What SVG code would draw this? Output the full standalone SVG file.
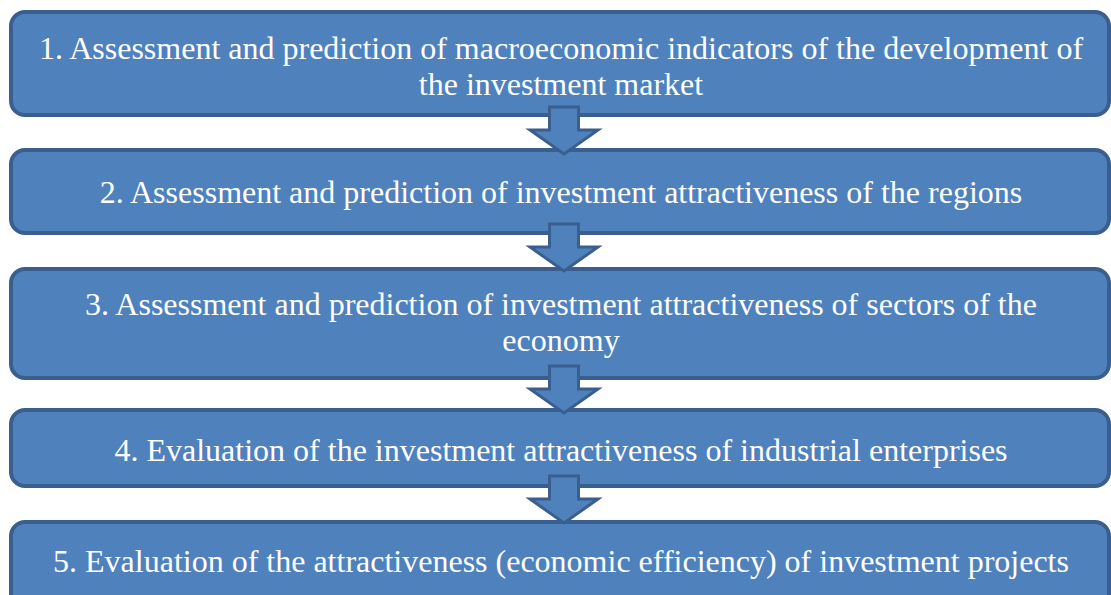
<svg xmlns="http://www.w3.org/2000/svg" xmlns:xlink="http://www.w3.org/1999/xlink" width="1111" height="595" viewBox="0 0 1111 595">
<defs>
<style>
.box{fill:#4F81BD;stroke:#3A5F8E;stroke-width:4}
.arr{fill:#4F81BD;stroke:#3A5F8E;stroke-width:3;stroke-linejoin:miter}
.t{font-family:"Liberation Serif","Times New Roman",serif;font-size:32px;fill:#FFFFFF;text-anchor:middle}
</style>
<path id="dn" d="M-14.5,0 H14.5 V23 H34 L0,47 L-34,23 H-14.5 Z"/>
</defs>
<rect width="1111" height="595" fill="#FFFFFF"/>
<g id="node1">
<rect class="box" x="11" y="12" width="1098" height="103" rx="14"/>
<text class="t" x="561" y="59">1. Assessment and prediction of macroeconomic indicators of the development of</text>
<text class="t" x="561" y="95">the investment market</text>
</g>
<g id="node2">
<rect class="box" x="11" y="150" width="1098" height="83" rx="14"/>
<text class="t" x="561" y="203">2. Assessment and prediction of investment attractiveness of the regions</text>
</g>
<g id="node3">
<rect class="box" x="11" y="269" width="1098" height="109" rx="14"/>
<text class="t" x="561" y="315">3. Assessment and prediction of investment attractiveness of sectors of the</text>
<text class="t" x="561" y="351">economy</text>
</g>
<g id="node4">
<rect class="box" x="11" y="410" width="1098" height="76" rx="14"/>
<text class="t" x="561" y="461">4. Evaluation of the investment attractiveness of industrial enterprises</text>
</g>
<g id="node5">
<rect class="box" x="11" y="522" width="1098" height="100" rx="14"/>
<text class="t" x="561" y="572">5. Evaluation of the attractiveness (economic efficiency) of investment projects</text>
</g>
<g id="connectors">
<use xlink:href="#dn" class="arr" transform="translate(564,107)"/>
<use xlink:href="#dn" class="arr" transform="translate(564,224)"/>
<use xlink:href="#dn" class="arr" transform="translate(564,366)"/>
<use xlink:href="#dn" class="arr" transform="translate(564,476)"/>
</g>
</svg>
